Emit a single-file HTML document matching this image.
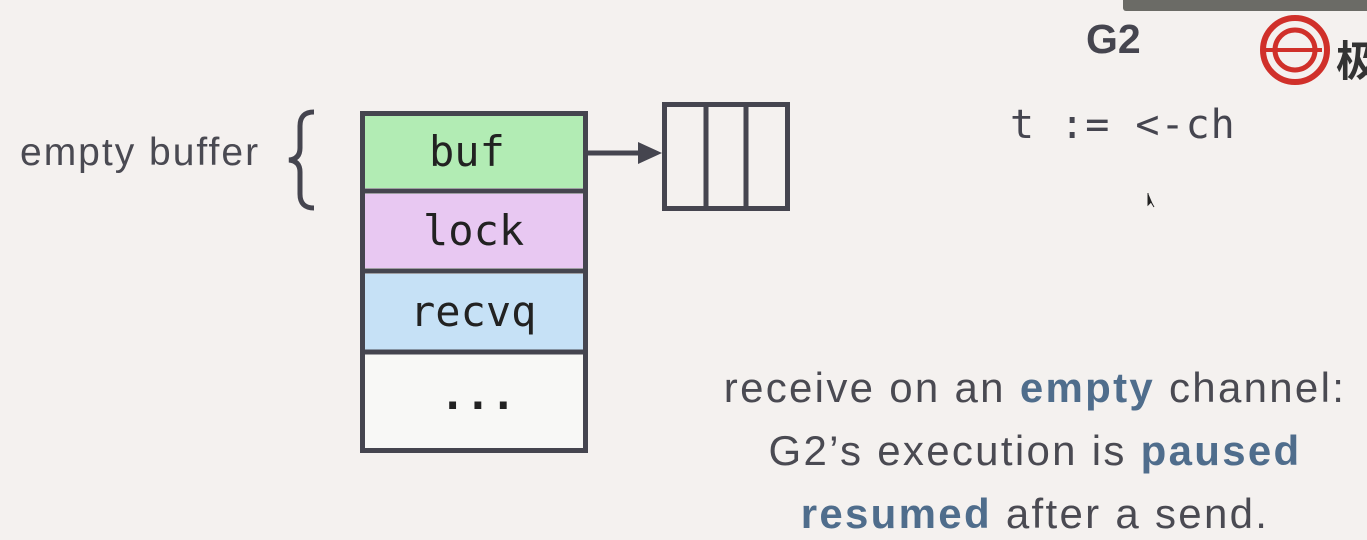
<!DOCTYPE html>
<html><head><style>
html,body{margin:0;width:1367px;height:540px;overflow:hidden}
body{background:#f4f1ef;position:relative;font-family:"Liberation Sans",sans-serif;color:#4a4a52}
.a{position:absolute;white-space:nowrap}
.mono{font-family:"DejaVu Sans Mono","Liberation Mono",monospace;color:#222}
.b{color:#4f6d8c;font-weight:bold}
</style></head><body>
<div class="a" style="left:1123px;top:0;width:244px;height:11px;background:#6b6b66;border-radius:0 0 0 3px"></div>
<div class="a" style="left:20px;top:131px;font-size:39px;letter-spacing:2px">empty buffer</div>
<svg class="a" style="left:0;top:0" width="1367" height="540">
<path d="M314 112 Q300 112 300 126 L300 148 Q300 159 289 160 Q300 161 300 172 L300 194 Q300 208 314 208" fill="none" stroke="#45454f" stroke-width="5"/>
<rect x="362.5" y="113.5" width="223" height="337" fill="#f8f8f6" stroke="#45454f" stroke-width="5"/>
<rect x="365" y="116" width="218" height="72" fill="#b2ecb4"/>
<rect x="365" y="194" width="218" height="74" fill="#e8c8f2"/>
<rect x="365" y="274" width="218" height="76" fill="#c6e1f6"/>
<line x1="362" y1="191" x2="586" y2="191" stroke="#45454f" stroke-width="5"/>
<line x1="362" y1="271" x2="586" y2="271" stroke="#45454f" stroke-width="5"/>
<line x1="362" y1="352" x2="586" y2="352" stroke="#45454f" stroke-width="5"/>
<line x1="588" y1="153" x2="642" y2="153" stroke="#45454f" stroke-width="5"/>
<polygon points="638,142 662,153 638,164" fill="#45454f"/>
<rect x="664.5" y="104.5" width="123" height="104" fill="#f4f1ef" stroke="#45454f" stroke-width="5"/>
<line x1="706" y1="104" x2="706" y2="209" stroke="#45454f" stroke-width="5"/>
<line x1="746" y1="104" x2="746" y2="209" stroke="#45454f" stroke-width="5"/>
<circle cx="1295" cy="50" r="32" fill="none" stroke="#d0302a" stroke-width="6"/>
<circle cx="1295" cy="50" r="20" fill="none" stroke="#d0302a" stroke-width="5"/>
<line x1="1263" y1="50" x2="1322" y2="50" stroke="#d0302a" stroke-width="4"/>
<path d="M1148 193 l0 12 l3 -3 l3 5" fill="#222" stroke="#222" stroke-width="1"/>
</svg>
<div class="a mono" style="left:429px;top:127px;font-size:42px">buf</div>
<div class="a mono" style="left:423px;top:206px;font-size:42px">lock</div>
<div class="a mono" style="left:410px;top:287px;font-size:42px">recvq</div>
<div class="a mono" style="left:440px;top:370px;font-size:42px;font-weight:bold">...</div>
<div class="a" style="left:1086px;top:16px;font-size:41px;font-weight:bold;color:#45454f">G2</div>
<div class="a mono" style="left:1010px;top:102px;font-size:40px;letter-spacing:1px;color:#45454f">t := &lt;-ch</div>
<div class="a" style="left:1336px;top:28px;font-size:42px;font-weight:bold;color:#333;font-family:'Noto Sans CJK SC',sans-serif">极</div>
<div class="a" style="left:700px;top:356px;width:670px;text-align:center;font-size:42px;letter-spacing:2.3px;line-height:63px">receive on an <span class="b">empty</span> channel:<br>G2’s execution is <span class="b">paused</span><br><span class="b">resumed</span> after a send.</div>
</body></html>
